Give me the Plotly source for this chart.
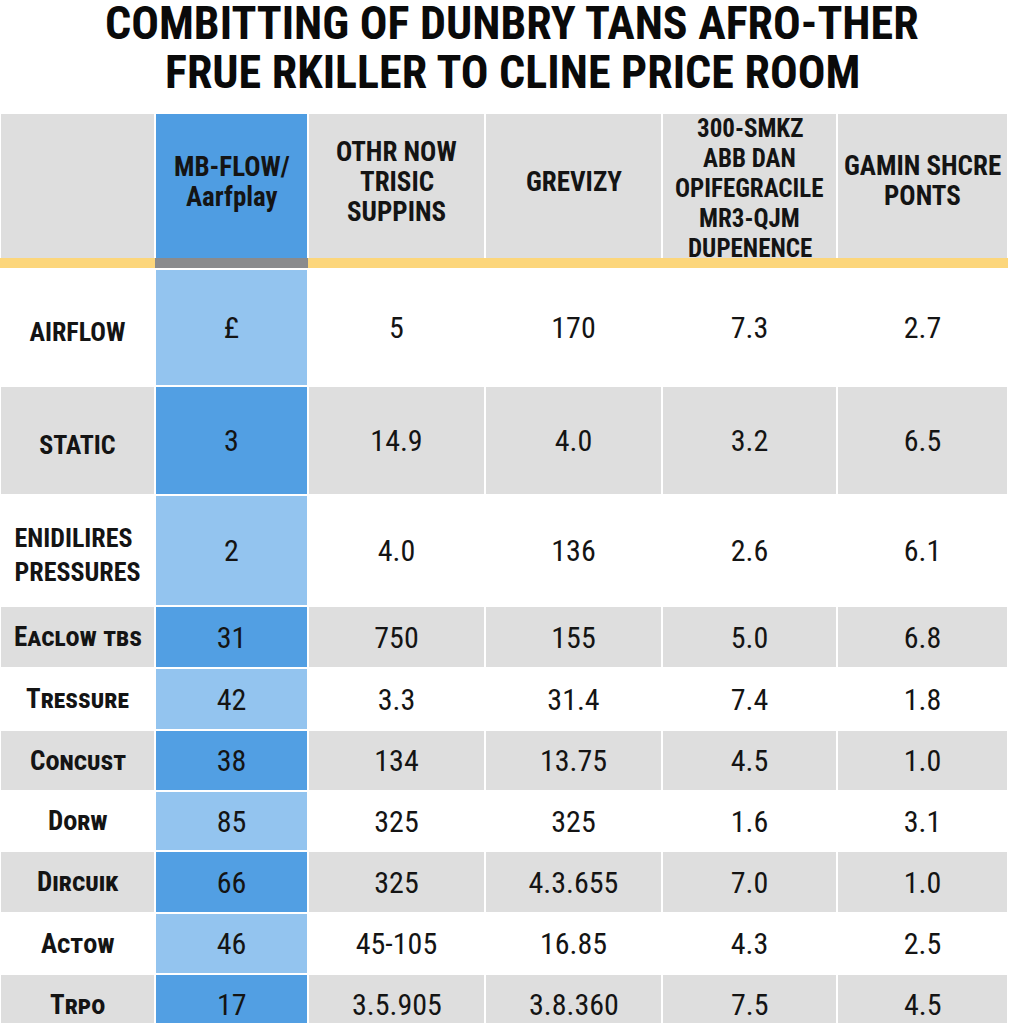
import plotly.graph_objects as go

# ---------------- data ----------------
title_lines = ["COMBITTING OF DUNBRY TANS AFRO-THER", "FRUE RKILLER TO CLINE PRICE ROOM"]
headers = ["", "MB-FLOW/<br>Aarfplay", "OTHR NOW<br>TRISIC<br>SUPPINS", "GREVIZY",
           "300-SMKZ<br>ABB DAN<br>OPIFEGRACILE<br>MR3-QJM<br>DUPENENCE", "GAMIN SHCRE<br>PONTS"]
row_labels = ["AIRFLOW", "STATIC", "ENIDILIRES<br>PRESSURES", "EACLOW TBS", "TRESSURE",
              "CONCUST", "DORW", "DIRCUIK", "ACTOW", "TRPO"]
mb_flow = ["£", "3", "2", "31", "42", "38", "85", "66", "46", "17"]
othr_now = ["5", "14.9", "4.0", "750", "3.3", "134", "325", "325", "45-105", "3.5.905"]
grevizy = ["170", "4.0", "136", "155", "31.4", "13.75", "325", "4.3.655", "16.85", "3.8.360"]
smkz = ["7.3", "3.2", "2.6", "5.0", "7.4", "4.5", "1.6", "7.0", "4.3", "7.5"]
gamin = ["2.7", "6.5", "6.1", "6.8", "1.8", "1.0", "3.1", "1.0", "2.5", "4.5"]

value_cols = [mb_flow, othr_now, grevizy, smkz, gamin]

# ---------------- layout constants ----------------
W = 1024
COL_W = [155, 153, 177, 177, 175, 171]
EDGES = [sum(COL_W[:i]) for i in range(len(COL_W) + 1)]
HDR_TOP, HDR_H, BAND_H = 113, 145, 10
ROW_TOPS = [269, 386, 495, 606, 668, 730, 791, 851, 913, 974]
ROW_END = 1023.5
LAST_PITCH = 61
CELL_PAD = 8              # plotly table cell padding
N_TALL = 3                # the first rows are tall and use plain capitals

NARROW = "Liberation Sans Narrow, Roboto Condensed, DejaVu Sans Condensed, sans-serif"
TXT = "#141414"
GREY = "#dedede"
WHITE = "#ffffff"
BLUE_DARK = "#529fe3"
BLUE_LIGHT = "#93c4ef"
HDR_BLUE = "#4f9de2"
YELLOW = "#fcd67b"
BAND_GREY = "#8a8b8d"
CLEAR = "rgba(0,0,0,0)"

VAL_SIZE = 30
LBL_SIZES = [26, 26, 26, 27, 27, 27, 27, 27, 27, 27]
HDR_SIZES = [27, 27, 27, 27, 25, 27]
HDR_LINE = 30
HDR_CENTRES = [0, 182, 182, 182, 188, 181]


def py(px):
    return 1 - px / W


def px_dom(c0, c1):
    return [EDGES[c0] / W, EDGES[c1] / W]


def row_fill(i, col):
    grey_row = i % 2 == 1
    if col == 1:
        return BLUE_DARK if grey_row else BLUE_LIGHT
    return GREY if grey_row else WHITE


def small_caps(s):
    # first letter full size, the rest as small capitals
    return "<b><span style='font-variant:small-caps'>" + s[0] + s[1:].lower() + "</span></b>"


fig = go.Figure()


def bg_row(top, height, fills):
    fig.add_trace(go.Table(
        domain=dict(x=px_dom(0, 6), y=[0, py(top)]),
        columnwidth=COL_W,
        header=dict(values=[""] * 6, height=height, fill=dict(color=fills),
                    line=dict(color=WHITE, width=2)),
        cells=dict(values=[], fill=dict(color=CLEAR), line=dict(color=CLEAR, width=0)),
    ))


def text_row(c0, c1, values, centre, size):
    nlines = max(v.count("<br>") + 1 for v in values)
    text_centre = CELL_PAD + 0.4 * size + (nlines - 1) * 1.3 * size / 2
    top = centre - text_centre
    fig.add_trace(go.Table(
        domain=dict(x=px_dom(c0, c1), y=[0, py(top)]),
        columnwidth=COL_W[c0:c1],
        header=dict(values=values, height=10, align="center",
                    font=dict(family=NARROW, size=size, color=TXT),
                    fill=dict(color=CLEAR), line=dict(color=CLEAR, width=0)),
        cells=dict(values=[], fill=dict(color=CLEAR), line=dict(color=CLEAR, width=0)),
    ))


def text_ann(c, text, centre, size):
    fig.add_annotation(text=text, x=(EDGES[c] + EDGES[c + 1]) / 2 / W, y=py(centre),
                       xref="paper", yref="paper", xanchor="center", yanchor="middle",
                       showarrow=False, font=dict(family=NARROW, size=size, color=TXT))


# ---- header background (header + band) ----
bg_row(HDR_TOP, HDR_H + BAND_H, [GREY, HDR_BLUE, GREY, GREY, GREY, GREY])

# ---- body rows ----
bottoms = ROW_TOPS[1:] + [ROW_END]
for i, (top, bot) in enumerate(zip(ROW_TOPS, bottoms)):
    bg_row(top, bot - top, [row_fill(i, c) for c in range(6)])
last = len(ROW_TOPS) - 1
for i, top in enumerate(ROW_TOPS):
    full_h = (ROW_TOPS[i + 1] - top) if i < last else LAST_PITCH
    centre = top + full_h / 2
    # row label
    if i < N_TALL:
        text_row(0, 1, ["<b>" + row_labels[i] + "</b>"], centre, LBL_SIZES[i])
    else:
        text_ann(0, small_caps(row_labels[i]), centre, LBL_SIZES[i])
    # values
    if i < last:
        text_row(1, 6, [col[i] for col in value_cols], centre, VAL_SIZE)
    else:  # the cut-off last row: text too close to the page edge for a table cell
        for c, col in enumerate(value_cols, start=1):
            text_ann(c, col[i], centre, VAL_SIZE)

# ---- column header texts (one annotation per line, centred) ----
for c in range(1, 6):
    lines = headers[c].split("<br>")
    n = len(lines)
    for k, ln in enumerate(lines):
        yc = HDR_CENTRES[c] + (k - (n - 1) / 2) * HDR_LINE
        text_ann(c, "<b>" + ln + "</b>", yc, HDR_SIZES[c])

# ---- yellow band under the header ----
band_y0, band_y1 = HDR_TOP + HDR_H, HDR_TOP + HDR_H + BAND_H
fig.add_shape(type="rect", xref="paper", yref="paper", x0=0, x1=EDGES[6] / W,
              y0=py(band_y1), y1=py(band_y0), fillcolor=YELLOW, line=dict(width=0))
fig.add_shape(type="rect", xref="paper", yref="paper", x0=EDGES[1] / W, x1=EDGES[2] / W,
              y0=py(band_y1), y1=py(band_y0), fillcolor=BAND_GREY, line=dict(width=0))

# ---- title ----
for line, yc in zip(title_lines, [22.5, 71.5]):
    fig.add_annotation(text="<b>" + line + "</b>", x=0.5, y=py(yc), xref="paper", yref="paper",
                       xanchor="center", yanchor="middle", showarrow=False,
                       font=dict(family=NARROW, size=46, color="#0a0a0a"))

fig.update_layout(width=W, height=W, margin=dict(l=0, r=0, t=0, b=0),
                  paper_bgcolor="white", plot_bgcolor="white", showlegend=False)

fig.write_html(
    "out.html",
    config={"displayModeBar": False, "staticPlot": True},
    post_script=(
        "document.body.style.margin='0';document.body.style.overflow='hidden';"
        "var s=document.createElement('style');"
        "s.textContent='.scrollbar-kit{display:none !important}';"
        "document.head.appendChild(s);"
    ),
)
